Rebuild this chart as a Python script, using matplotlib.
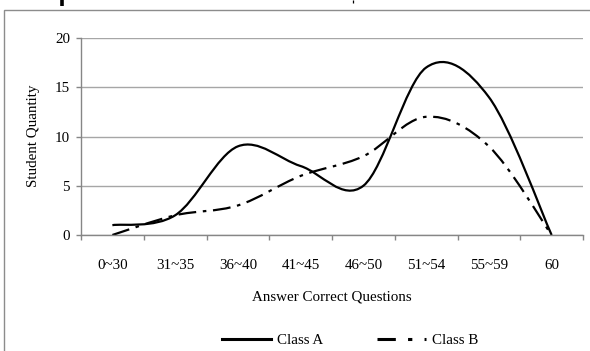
"""
Smoothed line chart: answer correct questions vs student quantity for two classes.
"""

import matplotlib

matplotlib.use("Agg")
import matplotlib.pyplot as plt
from matplotlib.lines import Line2D
from matplotlib.patches import PathPatch, Rectangle
from matplotlib.path import Path


CATEGORIES = ["0~30", "31~35", "36~40", "41~45", "46~50", "51~54", "55~59", "60"]
CLASS_A = [1, 2, 9, 7, 5, 17, 14, 0]
CLASS_B = [0, 2, 3, 6, 8, 12, 9, 0]
Y_TICKS = [0, 5, 10, 15, 20]

SERIF = ["Liberation Serif", "DejaVu Serif"]
FONT_SIZE = 10.8
GRID_COLOR = "#a6a6a6"
AXIS_COLOR = "#868686"
DASH_DOT = (0, (8, 3, 1.6, 3))


def smooth_path(values: list[float]) -> Path:
    """Excel-like smoothed line: cubic Bezier through each point."""
    pts = [(i + 0.5, float(v)) for i, v in enumerate(values)]
    n = len(pts)
    verts = [pts[0]]
    codes = [Path.MOVETO]
    for i in range(n - 1):
        p_prev = pts[max(i - 1, 0)]
        p0 = pts[i]
        p1 = pts[i + 1]
        p_next = pts[min(i + 2, n - 1)]
        c1 = (p0[0] + (p1[0] - p_prev[0]) / 6, p0[1] + (p1[1] - p_prev[1]) / 6)
        c2 = (p1[0] - (p_next[0] - p0[0]) / 6, p1[1] - (p_next[1] - p0[1]) / 6)
        verts += [c1, c2, p1]
        codes += [Path.CURVE4] * 3
    return Path(verts, codes)


def main() -> None:
    plt.rcParams["font.family"] = SERIF
    W, H = 590, 351
    fig = plt.figure(figsize=(W / 100, H / 100), dpi=100)
    fig.patch.set_facecolor("white")

    # chart area border (cut by the picture edge on right and bottom)
    fig.patches.append(
        Rectangle((4 / W, -0.1), 1.2, 1 - 9.5 / H + 0.1, transform=fig.transFigure,
                  fill=False, edgecolor="#8c8c8c", linewidth=1.0)
    )
    # bits of a title that sits above the picture edge
    fig.lines.append(Line2D([62 / W, 62 / W], [1, 1 - 6 / H], transform=fig.transFigure,
                            color="black", linewidth=2.6, solid_capstyle="butt"))
    fig.lines.append(Line2D([353 / W, 353 / W], [1, 1 - 3 / H], transform=fig.transFigure,
                            color="black", linewidth=0.9, solid_capstyle="butt"))

    left, right, top, bottom = 81, 583, 38, 235
    ax = fig.add_axes([left / W, 1 - bottom / H, (right - left) / W, (bottom - top) / H])
    ax.set_xlim(0, len(CATEGORIES))
    ax.set_ylim(0, 20)

    for s in ("top", "right"):
        ax.spines[s].set_visible(False)
    for s in ("left", "bottom"):
        ax.spines[s].set_color(AXIS_COLOR)
        ax.spines[s].set_linewidth(1.0)

    ax.set_yticks(Y_TICKS)
    ax.set_yticklabels([str(t) for t in Y_TICKS], fontsize=FONT_SIZE)
    ax.tick_params(axis="y", direction="out", length=3.6, width=1.0, color=AXIS_COLOR, pad=4.3)
    ax.yaxis.grid(True, color=GRID_COLOR, linewidth=1.0)
    ax.set_axisbelow(True)

    ax.set_xticks(range(len(CATEGORIES) + 1))
    ax.set_xticklabels([])
    ax.set_xticks([i + 0.5 for i in range(len(CATEGORIES))], minor=True)
    ax.set_xticklabels(CATEGORIES, minor=True, fontsize=FONT_SIZE)
    ax.tick_params(axis="x", which="major", direction="out", length=3.6, width=1.0, color=AXIS_COLOR)
    ax.tick_params(axis="x", which="minor", length=0, pad=17)

    ax.add_patch(PathPatch(smooth_path(CLASS_A), fill=False, edgecolor="black",
                           linewidth=1.6, capstyle="butt", joinstyle="round"))
    ax.add_patch(PathPatch(smooth_path(CLASS_B), fill=False, edgecolor="black",
                           linewidth=1.6, linestyle=DASH_DOT, capstyle="butt"))

    fig.text(332 / W, 1 - 297 / H, "Answer Correct Questions", fontsize=FONT_SIZE,
             ha="center", va="center")
    fig.text(33 / W, 1 - 136 / H, "Student Quantity", fontsize=FONT_SIZE,
             ha="center", va="center", rotation=90)

    handles = [
        Line2D([], [], color="black", linewidth=2.2),
        Line2D([], [], color="black", linewidth=2.2, linestyle=(0, (6, 4, 1.4, 4))),
    ]
    fig.legend(handles, ["Class A", "Class B"], loc="center", ncol=2,
               bbox_to_anchor=(350 / W, 1 - 340 / H), frameon=False,
               fontsize=FONT_SIZE, handlelength=3.3, handletextpad=0.35,
               columnspacing=3.6, borderpad=0)

    fig.savefig("out.png", dpi=100, facecolor="white")
    plt.close(fig)


if __name__ == "__main__":
    main()
